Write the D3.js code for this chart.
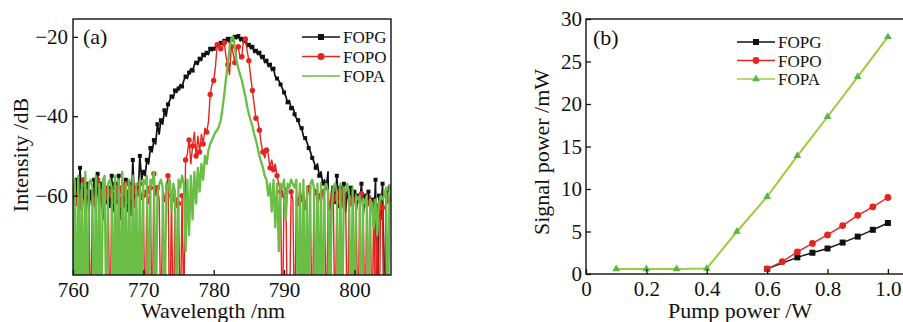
<!DOCTYPE html>
<html>
<head>
<meta charset="utf-8">
<script src="https://cdn.jsdelivr.net/npm/d3@7"></script>
<style>
  body { margin: 0; background: #fff; }
  svg { display: block; }
  text { font-family: "Liberation Serif", "Times New Roman", serif; fill: #111; }
</style>
</head>
<body>
<svg id="chart" width="903" height="322"></svg>
<script>
// ---------- panel (a): spectra, one sample every 0.25 nm from 760 to 805 nm ----------
// (noise dips run below the -80 dB edge of the plot and get clipped)
const lambdaStart = 760;
const lambdaStep = 0.25;

const fopgSpectrum = [
  -58,-63,-56,-65,-53,-62,-58,-66,-57,-64,-59,-62,-56,-65,-54.5,-63,-57,-66,-59,-62,   // 760
  -58,-63,-55,-64,-57,-62,-55,-66,-58,-63,-56,-64,-57,-65,-51,-62,-58,-60,-50,-56,     // 765
  -54,-55,-51,-52,-48,-49,-46,-47,-42,-44.5,-41,-42,-38.5,-40,-37,-36,-35,-35.5,-33.5,-34, // 770
  -33,-32,-32.5,-31,-30,-30.5,-29,-28,-28.5,-27,-26.5,-27,-25.5,-26,-24.5,-25,-24,-24.5,-23,-23.5, // 775
  -23,-22.5,-22,-22.5,-21.5,-22,-21,-21.5,-20.5,-21.5,-20.5,-21,-20,-20.5,-19.8,-21,-20.5,-21.5,-21,-22.5, // 780
  -22,-23,-22.5,-24,-23.5,-24.5,-24,-25.5,-25,-26.5,-26,-27.5,-27,-28.5,-28,-30,-30.5,-31,-32,-33, // 785
  -34,-35,-36.5,-36,-38,-37.5,-39.5,-40.5,-41,-42.5,-43,-45,-45.5,-46.5,-48,-49,-50.5,-51.5,-53,-52, // 790
  -55,-54,-57,-56,-58,-54,-95,-59,-58,-62,-55,-63,-58,-62,-57,-64,-59,-61,-58,-63,     // 795
  -59,-64,-60,-62,-57,-65,-60,-63,-59,-64,-61,-68,-56,-95,-60,-66,-57,-95,-60,-59,     // 800
  -58
];

const fopoSpectrum = [
  -60,-56,-62,-59,-63,-58,-56,-62,-59,-60,-97,-60,-62,-59,-56,-61,-59,-63,-58,-61,
  -59,-97,-60,-62,-58,-61,-59,-63,-58,-60,-57,-62,-59,-61,-58,-63,-59,-60,-57,-61,
  -60,-97,-59,-62,-58,-97,-54.5,-60,-58,-61,-97,-59,-61,-58,-55,-97,-60,-97,-61,-63,
  -62,-95,-60,-90,-51,-49.5,-46,-52,-47.5,-44,-50,-45,-49,-44.5,-47,-43,-44,-41.5,-34.5,-32,
  -31,-27.5,-22,-21.5,-23,-22.5,-21.5,-25,-27,-29.5,-22.5,-24,-26.5,-23,-22.5,-25.5,-25,-20.5,-20.5,-23.5,
  -26,-30,-33.5,-37,-40.5,-41,-43.5,-47,-49,-50.5,-48.5,-49.5,-53,-51,-53.5,-52,-55,-57,-59,-95,
  -60,-58,-97,-95,-59,-61,-97,-60,-62,-58,-61,-59,-63,-60,-58,-62,-97,-60,-59,-62,
  -60,-62,-59,-61,-97,-60,-63,-59,-61,-97,-60,-62,-59,-63,-60,-61,-97,-60,-62,-61,
  -61,-62,-97,-60,-59.5,-62,-97,-61,-62,-60,-97,-61,-95,-62,-97,-61,-63,-97,-60,-62,
  -61
];

const fopaSpectrum = [
  -92,-56,-98,-55,-88,-57,-98,-54,-95,-57,-56,-58,-98,-55,-92,-57,-98,-56,-55,-96,
  -57,-56,-58,-98,-55,-88,-56,-98,-54,-86,-57,-96,-56,-98,-55,-88,-57,-98,-56,-95,
  -56,-57,-55,-98,-56,-57,-54,-95,-60,-57,-56,-58,-98,-57,-58,-56,-64,-57,-59,-95,
  -56,-58,-55,-57,-74,-56,-70,-55,-66,-54,-62,-53,-59,-52,-56,-50,-52,-48.5,-47,-46,
  -45,-44,-43.5,-42.5,-41,-38,-34.5,-30.5,-27,-23,-20.5,-20,-22.5,-26,-28,-29.5,-31,-33,-35,-37.5,
  -39.5,-41,-42.5,-44.5,-46,-48,-50,-51.5,-53,-55,-56,-60,-57,-64,-56,-68,-57,-74,-57,-58,
  -56,-66,-57,-58,-56,-57,-58,-56,-98,-57,-95,-56,-98,-58,-92,-57,-56,-58,-98,-57,
  -95,-57,-98,-58,-57,-59,-96,-64,-58,-57,-59,-98,-57,-95,-58,-59,-57,-60,-98,-58,
  -96,-60,-61,-60,-98,-61,-62,-60,-95,-61,-62,-68,-61,-70,-62,-60,-61,-60,-58,-96,
  -57
];

const wavelengthTicks = [760, 770, 780, 790, 800];
const intensityTicks = [-20, -40, -60];

// ---------- panel (b): signal power vs pump power ----------
const pumpFopg = [0.6, 0.7, 0.75, 0.8, 0.85, 0.9, 0.95, 1.0];
const powerFopg = [0.6, 1.96, 2.5, 3.0, 3.7, 4.4, 5.2, 6.0];
const pumpFopo = [0.6, 0.65, 0.7, 0.75, 0.8, 0.85, 0.9, 0.95, 1.0];
const powerFopo = [0.6, 1.45, 2.6, 3.6, 4.6, 5.7, 6.9, 7.9, 9.0];
const pumpFopa = [0.1, 0.2, 0.3, 0.4, 0.5, 0.6, 0.7, 0.8, 0.9, 1.0];
const powerFopa = [0.6, 0.6, 0.6, 0.65, 5.0, 9.1, 13.9, 18.5, 23.2, 27.9];

const pumpTicks = [0, 0.2, 0.4, 0.6, 0.8, 1.0];
const signalTicks = [0, 5, 10, 15, 20, 25, 30];
const seriesNames = ['FOPG', 'FOPO', 'FOPA'];

const black = '#111';
const red = '#e52420';
const green = '#6abd45';
const greenLineB = '#9ccc3c';
const greenMarkB = '#5db443';

const svg = d3.select('#chart');

// ===================== panel (a) =====================
const xA = d3.scaleLinear().domain([760, 805.2]).range([73, 391]);
const yA = d3.scaleLinear().domain([-80, -15.5]).range([275, 19]);

svg.append('clipPath').attr('id', 'clipA')
  .append('rect').attr('x', 73).attr('y', 19).attr('width', 318).attr('height', 256);

const toPoints = arr => arr.map((v, i) => [lambdaStart + i * lambdaStep, v]);

const lineA = d3.line().x(d => xA(d[0])).y(d => yA(d[1]));
const plotA = svg.append('g').attr('clip-path', 'url(#clipA)');

// FOPG (black) with small squares
const gPts = toPoints(fopgSpectrum);
plotA.append('path').datum(gPts)
  .attr('fill', 'none').attr('stroke', black).attr('stroke-width', 1.7)
  .attr('stroke-linejoin', 'round').attr('d', lineA);
plotA.selectAll('.sqA').data(gPts.filter((d, i) => i % 2 === 0))
  .enter().append('rect').attr('class', 'sqA')
  .attr('x', d => xA(d[0]) - 2).attr('y', d => yA(d[1]) - 2)
  .attr('width', 4).attr('height', 4).attr('fill', black);

// FOPO (red) with dots
const oPts = toPoints(fopoSpectrum);
plotA.append('path').datum(oPts)
  .attr('fill', 'none').attr('stroke', red).attr('stroke-width', 1.4)
  .attr('stroke-linejoin', 'round').attr('d', lineA);
plotA.selectAll('.dotA').data(oPts.filter((d, i) => i % 2 === 0))
  .enter().append('circle').attr('class', 'dotA')
  .attr('cx', d => xA(d[0])).attr('cy', d => yA(d[1]))
  .attr('r', 2.7).attr('fill', red);

// FOPA (green) plain line
plotA.append('path').datum(toPoints(fopaSpectrum))
  .attr('fill', 'none').attr('stroke', green).attr('stroke-width', 2.3)
  .attr('stroke-linejoin', 'round').attr('d', lineA);

// axes (a)
const axA = svg.append('g').attr('transform', 'translate(0,275)')
  .call(d3.axisBottom(xA).tickValues(wavelengthTicks).tickSize(-5).tickPadding(7));
const ayA = svg.append('g').attr('transform', 'translate(73,0)')
  .call(d3.axisLeft(yA).tickValues(intensityTicks).tickSize(-5).tickPadding(5));
[axA, ayA].forEach(g => {
  g.select('.domain').remove();
  g.selectAll('line').attr('stroke', black).attr('stroke-width', 1.3);
  g.selectAll('text').attr('font-size', 21).attr('font-family', '"Liberation Serif", serif').attr('fill', '#111');
});

svg.append('rect').attr('x', 73).attr('y', 19).attr('width', 318).attr('height', 256)
  .attr('fill', 'none').attr('stroke', black).attr('stroke-width', 1.4);

svg.append('text').attr('x', 83).attr('y', 44).attr('font-size', 22).text('(a)');
svg.append('text').attr('x', 213).attr('y', 318).attr('text-anchor', 'middle')
  .attr('font-size', 22).text('Wavelength /nm');
svg.append('text').attr('transform', 'translate(28,155) rotate(-90)')
  .attr('text-anchor', 'middle').attr('font-size', 22).text('Intensity /dB');

// legend (a)
const legA = svg.append('g');
seriesNames.forEach((name, i) => {
  const y = 37 + i * 19.5;
  const col = [black, red, green][i];
  legA.append('line').attr('x1', 302).attr('x2', 340).attr('y1', y).attr('y2', y)
    .attr('stroke', col).attr('stroke-width', i === 2 ? 1.6 : 1.5);
  if (i === 0) legA.append('rect').attr('x', 318).attr('y', y - 3).attr('width', 6).attr('height', 6).attr('fill', col);
  if (i === 1) legA.append('circle').attr('cx', 321).attr('cy', y).attr('r', 3.5).attr('fill', col);
  legA.append('text').attr('x', 343).attr('y', y + 6).attr('font-size', 17).text(name);
});

// ===================== panel (b) =====================
const xB = d3.scaleLinear().domain([0, 1.05]).range([586, 903]);
const yB = d3.scaleLinear().domain([0, 30]).range([274, 19]);
const lineB = d3.line().x(d => xB(d[0])).y(d => yB(d[1]));

const seriesB = [
  { name: 'FOPG', pump: pumpFopg, power: powerFopg, line: black, mark: black, shape: d3.symbolSquare, size: 36 },
  { name: 'FOPO', pump: pumpFopo, power: powerFopo, line: red, mark: red, shape: d3.symbolCircle, size: 36 },
  { name: 'FOPA', pump: pumpFopa, power: powerFopa, line: greenLineB, mark: greenMarkB, shape: d3.symbolTriangle, size: 26 }
];

seriesB.forEach(s => {
  const pts = s.pump.map((p, i) => [p, s.power[i]]);
  svg.append('path').datum(pts)
    .attr('fill', 'none').attr('stroke', s.line).attr('stroke-width', s.name === 'FOPA' ? 2 : 1.4)
    .attr('d', lineB);
  svg.append('g').selectAll('path').data(pts).enter().append('path')
    .attr('transform', d => `translate(${xB(d[0])},${yB(d[1])})`)
    .attr('d', d3.symbol().type(s.shape).size(s.size))
    .attr('fill', s.mark);
});

const axB = svg.append('g').attr('transform', 'translate(0,274)')
  .call(d3.axisBottom(xB).tickValues(pumpTicks).tickSize(-5).tickPadding(7)
    .tickFormat(d => d === 0 ? '0' : d3.format('.1f')(d)));
const ayB = svg.append('g').attr('transform', 'translate(586,0)')
  .call(d3.axisLeft(yB).tickValues(signalTicks).tickSize(-5).tickPadding(4));
[axB, ayB].forEach(g => {
  g.select('.domain').remove();
  g.selectAll('line').attr('stroke', black).attr('stroke-width', 1.3);
  g.selectAll('text').attr('font-size', 21).attr('font-family', '"Liberation Serif", serif').attr('fill', '#111');
});

svg.append('rect').attr('x', 586).attr('y', 19).attr('width', 320).attr('height', 255)
  .attr('fill', 'none').attr('stroke', black).attr('stroke-width', 1.4);

svg.append('text').attr('x', 593).attr('y', 45).attr('font-size', 22).text('(b)');
svg.append('text').attr('x', 740).attr('y', 318).attr('text-anchor', 'middle')
  .attr('font-size', 22).text('Pump power /W');
svg.append('text').attr('transform', 'translate(549,152) rotate(-90)')
  .attr('text-anchor', 'middle').attr('font-size', 22).text('Signal power /mW');

// legend (b)
seriesB.forEach((s, i) => {
  const y = 42 + i * 18.5;
  svg.append('line').attr('x1', 737).attr('x2', 775).attr('y1', y).attr('y2', y)
    .attr('stroke', s.line).attr('stroke-width', 1.4);
  svg.append('path').attr('transform', `translate(756,${y})`)
    .attr('d', d3.symbol().type(s.shape).size(s.size)).attr('fill', s.mark);
  svg.append('text').attr('x', 778).attr('y', y + 6).attr('font-size', 17).text(s.name);
});
</script>
</body>
</html>
